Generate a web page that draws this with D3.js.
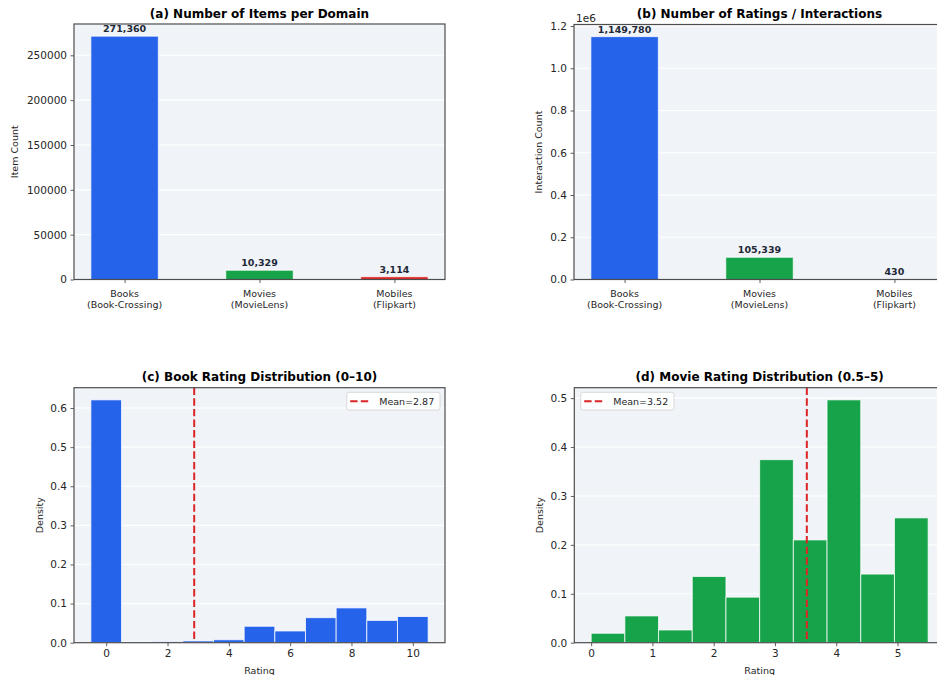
<!DOCTYPE html>
<html>
<head>
<meta charset="utf-8">
<script src="https://cdn.jsdelivr.net/npm/d3@7"></script>
<style>
  html, body { margin: 0; padding: 0; background: #ffffff; }
  svg { display: block; font-family: "DejaVu Sans", sans-serif; }
</style>
</head>
<body>
<svg id="fig" width="937" height="675"></svg>
<script>
// ---- data ----
const domainNames = ["Books", "Movies", "Mobiles"];
const domainSources = ["(Book-Crossing)", "(MovieLens)", "(Flipkart)"];
const itemCounts = [271360, 10329, 3114];
const interactionCounts = [1149780, 105339, 430];

const bookBinEdges = [-0.5, 0.5, 1.5, 2.5, 3.5, 4.5, 5.5, 6.5, 7.5, 8.5, 9.5, 10.5];
const bookDensity = [0.621, 0.0015, 0.0025, 0.0045, 0.0075, 0.042, 0.030, 0.064, 0.089, 0.057, 0.067];
const bookMean = 2.87;

const movieBinEdges = [0, 0.55, 1.1, 1.65, 2.2, 2.75, 3.3, 3.85, 4.4, 4.95, 5.5];
const movieDensity = [0.0193, 0.0548, 0.026, 0.1354, 0.0931, 0.3742, 0.2101, 0.4965, 0.1403, 0.2552];
const movieMean = 3.52;

// ---- styling ----
const domainColors = ["#2563eb", "#16a34a", "#dc2626"];
const faceColor = "#f0f4f9";
const spineColor = "#4d4d4d";
const textColor = "#262626";
const meanColor = "#dc2626";

const svg = d3.select("#fig");

function makeAxes(box) {
  const g = svg.append("g");
  g.append("rect")
    .attr("x", box.left).attr("y", box.top)
    .attr("width", box.right - box.left).attr("height", box.bottom - box.top)
    .attr("fill", faceColor);
  return g;
}

function drawGrid(g, box, y, ticks) {
  g.append("g").selectAll("line").data(ticks).join("line")
    .attr("x1", box.left).attr("x2", box.right)
    .attr("y1", d => y(d)).attr("y2", d => y(d))
    .attr("stroke", "#ffffff").attr("stroke-width", 1.1);
}

function styleAxis(sel) {
  sel.select(".domain").remove();
  sel.selectAll(".tick line").attr("stroke", spineColor).attr("stroke-width", 0.9);
  sel.selectAll(".tick text").attr("fill", textColor).attr("font-family", "DejaVu Sans");
}

function drawFrame(g, box) {
  g.append("rect")
    .attr("x", box.left).attr("y", box.top)
    .attr("width", box.right - box.left).attr("height", box.bottom - box.top)
    .attr("fill", "none").attr("stroke", spineColor).attr("stroke-width", 1.2);
}

function drawYAxis(g, box, y, ticks, fmt, label, labelX) {
  const ax = g.append("g")
    .attr("transform", `translate(${box.left},0)`)
    .call(d3.axisLeft(y).tickValues(ticks).tickFormat(fmt).tickSize(3.5).tickPadding(3.5));
  ax.selectAll(".tick text").attr("font-size", "10.5px");
  styleAxis(ax);
  g.append("text")
    .attr("transform", `translate(${labelX},${(box.top + box.bottom) / 2}) rotate(-90)`)
    .attr("text-anchor", "middle").attr("dominant-baseline", "central")
    .attr("font-size", "9.5px").attr("fill", textColor)
    .text(label);
}

function drawTitle(g, box, text, baseline) {
  g.append("text")
    .attr("x", (box.left + box.right) / 2).attr("y", baseline)
    .attr("text-anchor", "middle")
    .attr("font-size", "12px").attr("font-weight", "bold").attr("fill", "#000")
    .text(text);
}

// ---- bar panels (a) and (b) ----
function barPanel(box, values, title, yLabel, labelX, ticks, fmt, showExp) {
  const g = makeAxes(box);
  const x = d3.scaleLinear().domain([-0.375, 2.375]).range([box.left, box.right]);
  const ymax = d3.max(values) * 1.05;
  const y = d3.scaleLinear().domain([0, ymax]).range([box.bottom, box.top]);
  drawGrid(g, box, y, ticks);

  const barW = 0.5;
  g.append("g").selectAll("rect").data(values).join("rect")
    .attr("x", (d, i) => x(i - barW / 2))
    .attr("width", (d, i) => x(i + barW / 2) - x(i - barW / 2))
    .attr("y", d => y(d))
    .attr("height", d => y(0) - y(d))
    .attr("fill", (d, i) => domainColors[i])
    .attr("stroke", "rgba(255,255,255,0.75)").attr("stroke-width", 1);

  g.append("g").selectAll("text").data(values).join("text")
    .attr("x", (d, i) => x(i))
    .attr("y", d => y(d) - 4)
    .attr("text-anchor", "middle")
    .attr("font-size", "9.5px").attr("font-weight", "bold").attr("fill", "#1f2937")
    .text(d => d3.format(",")(d));

  drawFrame(g, box);
  drawYAxis(g, box, y, ticks, fmt, yLabel, labelX);

  const xa = g.append("g")
    .attr("transform", `translate(0,${box.bottom})`)
    .call(d3.axisBottom(x).tickValues([0, 1, 2]).tickFormat("").tickSize(3.5));
  styleAxis(xa);
  const lab = g.append("g").selectAll("text").data(domainNames).join("text")
    .attr("x", (d, i) => x(i)).attr("y", box.bottom + 17)
    .attr("text-anchor", "middle").attr("font-size", "9.5px").attr("fill", textColor);
  lab.append("tspan").attr("x", (d, i) => x(i)).text(d => d);
  lab.append("tspan").attr("x", (d, i) => x(i)).attr("dy", 11.4).text((d, i) => domainSources[i]);

  if (showExp) {
    g.append("text").attr("x", box.left + 2).attr("y", box.top - 3)
      .attr("font-size", "10.5px").attr("fill", textColor).text("1e6");
  }
  drawTitle(g, box, title, box.top - 6.5);
}

barPanel({ left: 74, right: 445, top: 24, bottom: 279.5 }, itemCounts,
  "(a) Number of Items per Domain", "Item Count", 14,
  [0, 50000, 100000, 150000, 200000, 250000], d3.format("d"), false);

barPanel({ left: 574, right: 945, top: 24.5, bottom: 279.5 }, interactionCounts,
  "(b) Number of Ratings / Interactions", "Interaction Count", 538.5,
  [0, 200000, 400000, 600000, 800000, 1000000, 1200000], d => (d / 1e6).toFixed(1), true);

// ---- histogram panels (c) and (d) ----
function histPanel(box, edges, dens, color, mean, title, xTicks, yTicks, legendRight) {
  const g = makeAxes(box);
  const lo = edges[0], hi = edges[edges.length - 1];
  const pad = (hi - lo) * 0.05;
  const x = d3.scaleLinear().domain([lo - pad, hi + pad]).range([box.left, box.right]);
  const y = d3.scaleLinear().domain([0, d3.max(dens) * 1.05]).range([box.bottom, box.top]);
  drawGrid(g, box, y, yTicks);

  const bins = dens.map((d, i) => ({ x0: edges[i], x1: edges[i + 1], v: d }));
  g.append("g").selectAll("rect").data(bins.filter(b => b.v > 0)).join("rect")
    .attr("x", b => x(b.x0)).attr("width", b => x(b.x1) - x(b.x0))
    .attr("y", b => y(b.v)).attr("height", b => y(0) - y(b.v))
    .attr("fill", color)
    .attr("stroke", "rgba(255,255,255,0.75)").attr("stroke-width", 1);

  g.append("line")
    .attr("x1", x(mean)).attr("x2", x(mean))
    .attr("y1", box.top).attr("y2", box.bottom)
    .attr("stroke", meanColor).attr("stroke-width", 2)
    .attr("stroke-dasharray", "7.4,3.2");

  drawFrame(g, box);
  drawYAxis(g, box, y, yTicks, d3.format(".1f"), "Density", box.left - 35);

  const xa = g.append("g")
    .attr("transform", `translate(0,${box.bottom})`)
    .call(d3.axisBottom(x).tickValues(xTicks).tickFormat(d3.format("d")).tickSize(3.5).tickPadding(3.5));
  xa.selectAll(".tick text").attr("font-size", "10.5px");
  styleAxis(xa);

  g.append("text")
    .attr("x", (box.left + box.right) / 2).attr("y", box.bottom + 31.5)
    .attr("text-anchor", "middle").attr("font-size", "9.5px").attr("fill", textColor)
    .text("Rating");

  // legend
  const lw = 93.3, lh = 17.7;
  const lx = legendRight ? box.right - 5 - lw : box.left + 6.4;
  const ly = box.top + 4.6;
  const lg = g.append("g");
  lg.append("rect").attr("x", lx).attr("y", ly).attr("width", lw).attr("height", lh)
    .attr("rx", 2).attr("fill", "rgba(255,255,255,0.85)")
    .attr("stroke", "#d0d0d0").attr("stroke-width", 0.8);
  lg.append("line")
    .attr("x1", lx + 3.5).attr("x2", lx + 24).attr("y1", ly + lh / 2).attr("y2", ly + lh / 2)
    .attr("stroke", meanColor).attr("stroke-width", 2).attr("stroke-dasharray", "7.4,3.2");
  lg.append("text").attr("x", lx + 32.5).attr("y", ly + lh / 2)
    .attr("dominant-baseline", "central")
    .attr("font-size", "9.5px").attr("fill", textColor)
    .text(`Mean=${mean.toFixed(2)}`);

  drawTitle(g, box, title, box.top - 6.5);
}

histPanel({ left: 74, right: 445, top: 387.7, bottom: 642.7 }, bookBinEdges, bookDensity,
  domainColors[0], bookMean, "(c) Book Rating Distribution (0–10)",
  [0, 2, 4, 6, 8, 10], [0, 0.1, 0.2, 0.3, 0.4, 0.5, 0.6], true);

histPanel({ left: 574.3, right: 945, top: 387.7, bottom: 642.7 }, movieBinEdges, movieDensity,
  domainColors[1], movieMean, "(d) Movie Rating Distribution (0.5–5)",
  [0, 1, 2, 3, 4, 5], [0, 0.1, 0.2, 0.3, 0.4, 0.5], false);
</script>
</body>
</html>
